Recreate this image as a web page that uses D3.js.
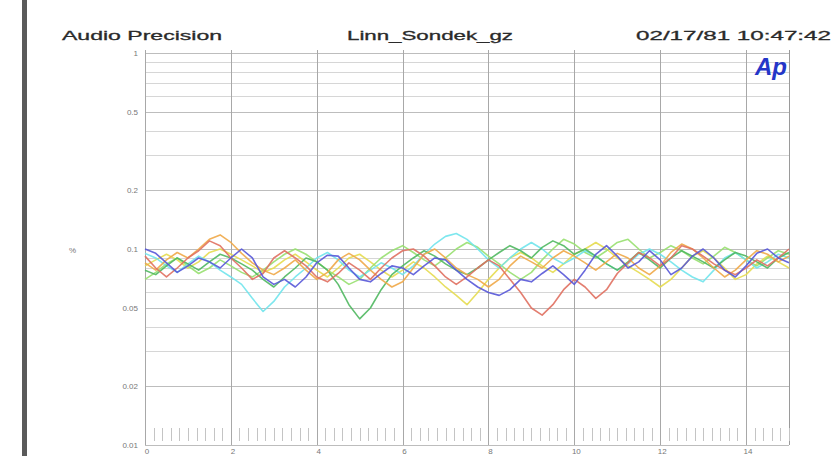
<!DOCTYPE html>
<html><head><meta charset="utf-8">
<script src="https://cdn.jsdelivr.net/npm/d3@7"></script>
<style>body{margin:0;background:#fff}svg{display:block}</style>
</head><body>
<script>
const W = 840, H = 456;
const xDomain = [0, 15];
const yDomain = [0.01, 1];
const xMajorTicks = [0, 2, 4, 6, 8, 10, 12, 14];
const yTickValues = [1, 0.5, 0.2, 0.1, 0.05, 0.02, 0.01];
const yTickLabels = ["1", "0.5", "0.2", "0.1", "0.05", "0.02", "0.01"];
const headerLeft = "Audio Precision";
const headerMid = "Linn_Sondek_gz";
const headerRight = "02/17/81 10:47:42";
const yUnit = "%";
const sampleStep = 0.25;

const blue = [0.100,0.095,0.085,0.076,0.082,0.090,0.086,0.080,0.090,0.100,0.090,0.072,0.066,0.070,0.064,0.072,0.085,0.093,0.092,0.080,0.070,0.068,0.075,0.082,0.080,0.074,0.082,0.090,0.088,0.078,0.070,0.064,0.060,0.058,0.062,0.070,0.068,0.075,0.082,0.074,0.066,0.078,0.094,0.104,0.092,0.080,0.086,0.098,0.088,0.074,0.080,0.092,0.100,0.090,0.078,0.072,0.082,0.095,0.100,0.090,0.085];
const red = [0.092,0.080,0.072,0.080,0.090,0.098,0.110,0.104,0.090,0.080,0.070,0.075,0.090,0.098,0.090,0.082,0.072,0.068,0.075,0.085,0.078,0.070,0.080,0.090,0.098,0.100,0.092,0.082,0.072,0.066,0.072,0.080,0.088,0.082,0.070,0.060,0.050,0.046,0.052,0.062,0.070,0.064,0.056,0.062,0.075,0.085,0.096,0.090,0.082,0.090,0.104,0.100,0.092,0.084,0.078,0.074,0.080,0.088,0.082,0.090,0.100];
const orange = [0.085,0.078,0.088,0.096,0.090,0.100,0.112,0.118,0.108,0.095,0.085,0.078,0.074,0.080,0.088,0.078,0.070,0.076,0.088,0.095,0.088,0.078,0.070,0.064,0.068,0.080,0.094,0.100,0.090,0.080,0.074,0.070,0.064,0.070,0.082,0.092,0.086,0.080,0.090,0.098,0.092,0.085,0.078,0.086,0.095,0.090,0.080,0.074,0.082,0.096,0.106,0.100,0.090,0.080,0.072,0.078,0.088,0.098,0.094,0.086,0.092];
const green = [0.078,0.074,0.082,0.090,0.084,0.078,0.086,0.094,0.090,0.084,0.078,0.070,0.064,0.072,0.080,0.090,0.086,0.078,0.066,0.052,0.044,0.050,0.062,0.074,0.082,0.090,0.098,0.092,0.084,0.078,0.074,0.080,0.088,0.096,0.104,0.098,0.090,0.102,0.110,0.104,0.094,0.100,0.092,0.084,0.078,0.086,0.096,0.088,0.080,0.090,0.098,0.092,0.086,0.080,0.088,0.096,0.092,0.086,0.080,0.090,0.096];
const cyan = [0.095,0.090,0.082,0.076,0.084,0.092,0.086,0.078,0.072,0.066,0.056,0.048,0.054,0.064,0.072,0.080,0.090,0.096,0.088,0.078,0.072,0.078,0.085,0.080,0.074,0.082,0.094,0.106,0.116,0.120,0.112,0.100,0.088,0.080,0.090,0.100,0.108,0.100,0.090,0.084,0.090,0.098,0.092,0.084,0.078,0.084,0.094,0.100,0.094,0.086,0.078,0.072,0.068,0.078,0.090,0.096,0.088,0.080,0.086,0.094,0.090];
const lime = [0.070,0.076,0.084,0.090,0.082,0.075,0.080,0.088,0.082,0.076,0.072,0.078,0.086,0.094,0.100,0.094,0.086,0.078,0.072,0.066,0.070,0.080,0.090,0.098,0.104,0.096,0.088,0.082,0.090,0.100,0.108,0.102,0.092,0.084,0.076,0.070,0.076,0.088,0.100,0.112,0.106,0.096,0.090,0.098,0.108,0.112,0.100,0.090,0.096,0.104,0.098,0.090,0.084,0.092,0.102,0.096,0.088,0.082,0.090,0.098,0.094];
const yellow = [0.082,0.088,0.094,0.088,0.080,0.086,0.096,0.100,0.094,0.088,0.082,0.076,0.080,0.088,0.094,0.086,0.078,0.072,0.080,0.090,0.094,0.086,0.078,0.072,0.078,0.086,0.080,0.072,0.064,0.058,0.052,0.060,0.070,0.080,0.090,0.096,0.090,0.082,0.076,0.084,0.094,0.100,0.108,0.100,0.090,0.082,0.076,0.070,0.064,0.070,0.080,0.092,0.098,0.090,0.080,0.070,0.074,0.084,0.092,0.086,0.080];

const series = [
  {name:"yellow", values:yellow, color:"#e6dc50"},
  {name:"lime", values:lime, color:"#98e070"},
  {name:"cyan", values:cyan, color:"#70e4ec"},
  {name:"green", values:green, color:"#50b860"},
  {name:"orange", values:orange, color:"#f0a848"},
  {name:"red", values:red, color:"#e07060"},
  {name:"blue", values:blue, color:"#5858d8"}
];

const svg = d3.select("body").append("svg").attr("width", W).attr("height", H);
const x = d3.scaleLinear().domain(xDomain).range([145, 789]);
const y = d3.scaleLog().domain(yDomain).range([445, 53]);

// left dark bar
svg.append("rect").attr("x", 22).attr("y", 0).attr("width", 5).attr("height", H).attr("fill", "#5a5a5a");

// header
const hdr = svg.append("g").attr("font-family", "Liberation Sans, Arial, sans-serif").attr("font-size", 13).attr("fill", "#2a2a2a").attr("stroke", "#2a2a2a").attr("stroke-width", 0.3);
hdr.append("text").attr("x", 62).attr("y", 40).attr("textLength", 160).attr("lengthAdjust", "spacingAndGlyphs").text(headerLeft);
hdr.append("text").attr("x", 347).attr("y", 40).attr("textLength", 166).attr("lengthAdjust", "spacingAndGlyphs").text(headerMid);
hdr.append("text").attr("x", 636).attr("y", 40).attr("textLength", 195).attr("lengthAdjust", "spacingAndGlyphs").text(headerRight);

// horizontal log grid
const minor = [];
[0.01, 0.1].forEach(d => { for (let k = 1; k <= 9; k++) minor.push(d * k); });
minor.push(1);
svg.append("g").selectAll("line").data(minor).join("line")
  .attr("x1", x(0)).attr("x2", x(15))
  .attr("y1", d => Math.round(y(d)) + 0.5).attr("y2", d => Math.round(y(d)) + 0.5)
  .attr("stroke", d => yTickValues.some(v => Math.abs(v - d) < 1e-9) ? "#bdbdbd" : "#d6d6d6")
  .attr("stroke-width", 1);

// vertical grid
svg.append("g").selectAll("line").data(xMajorTicks).join("line")
  .attr("x1", d => Math.round(x(d)) + 0.5).attr("x2", d => Math.round(x(d)) + 0.5)
  .attr("y1", 50).attr("y2", 445)
  .attr("stroke", "#a8a8a8");
svg.append("line").attr("x1", x(15) + 0.5).attr("x2", x(15) + 0.5).attr("y1", 50).attr("y2", 445).attr("stroke", "#9a9a9a");

// minor x ticks along bottom
const minorX = d3.range(0, 15.001, 0.2).filter(t => Math.abs(t / 2 - Math.round(t / 2)) > 1e-6);
svg.append("g").selectAll("line").data(minorX).join("line")
  .attr("x1", d => Math.round(x(d)) + 0.5).attr("x2", d => Math.round(x(d)) + 0.5)
  .attr("y1", 428).attr("y2", 441)
  .attr("stroke", "#c4c4c4");

// y labels
const yl = svg.append("g").attr("font-family", "Liberation Sans, Arial, sans-serif").attr("font-size", 8).attr("fill", "#777").attr("text-anchor", "end");
yl.selectAll("text").data(yTickValues).join("text")
  .attr("x", 138).attr("y", d => y(d) + 3)
  .text((d, i) => yTickLabels[i]);
yl.append("text").attr("x", 76).attr("y", 253).text(yUnit);

// x labels
svg.append("g").attr("font-family", "Liberation Sans, Arial, sans-serif").attr("font-size", 8).attr("fill", "#777").attr("text-anchor", "middle")
  .selectAll("text").data(xMajorTicks).join("text")
  .attr("x", d => x(d) + 2).attr("y", 454).text(d => d);

// traces
const line = d3.line().x((d, i) => x(i * sampleStep)).y(d => y(d));
svg.append("g").selectAll("path").data(series).join("path")
  .attr("d", s => line(s.values))
  .attr("fill", "none").attr("stroke", s => s.color)
  .attr("stroke-width", 1.6).attr("stroke-linejoin", "round").attr("opacity", 0.9);

// Ap logo
svg.append("text").attr("x", 755).attr("y", 75).attr("font-family", "Liberation Sans, Arial, sans-serif")
  .attr("font-size", 24).attr("font-weight", "bold").attr("font-style", "italic").attr("fill", "#2436c8").text("Ap");
</script>
</body></html>
